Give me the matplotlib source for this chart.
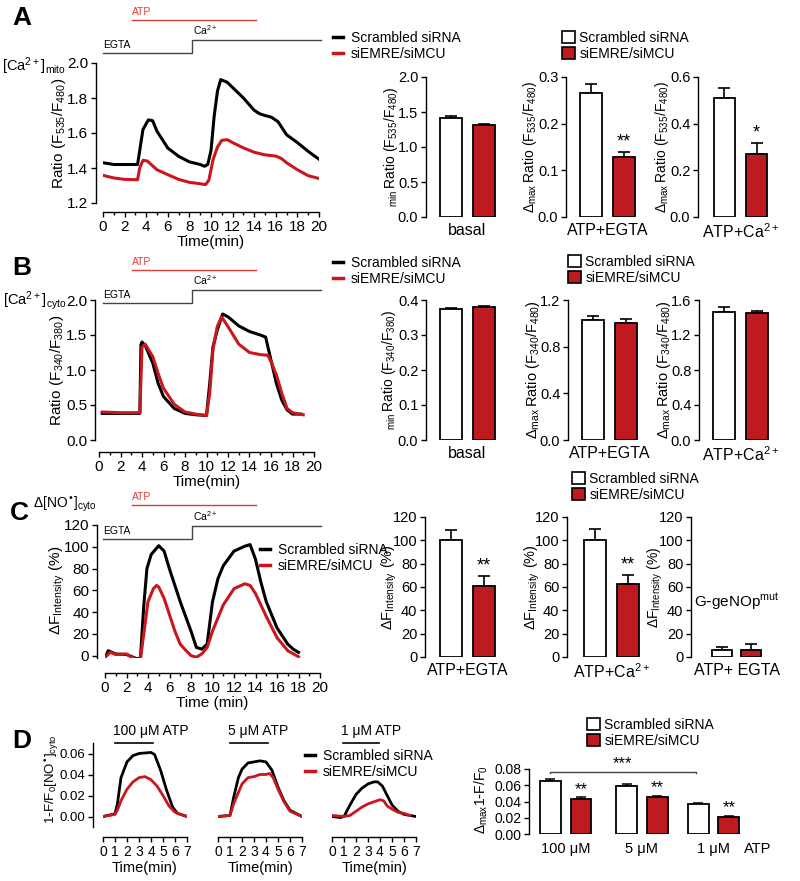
import numpy as np
import matplotlib
matplotlib.use('Agg')
import matplotlib.pyplot as plt
from matplotlib.patches import Patch
from matplotlib.lines import Line2D

plt.rcParams['font.family'] = ['Liberation Sans', 'DejaVu Sans']
plt.rcParams['mathtext.default'] = 'regular'
plt.rcParams['axes.linewidth'] = 1.0

RED = '#bf1a1f'
RED_LINE = '#c8171d'
RED_ATP = '#d9403a'
GREY = '#444444'

# ---------------- data ----------------
# A: mito Ca2+ traces
ta_k = [0, 1, 2, 3, 3.2, 3.4, 3.7, 4.2, 4.6, 5, 5.5, 6, 7, 8, 9, 9.4, 9.7, 10.0, 10.3, 10.6, 10.9,
        11.5, 12, 13, 14, 14.5, 15, 15.6, 16.2, 17, 18, 19, 20]
ya_k = [1.43, 1.42, 1.42, 1.42, 1.42, 1.50, 1.62, 1.675, 1.67, 1.61, 1.562, 1.514, 1.467, 1.435, 1.42,
        1.41, 1.42, 1.50, 1.70, 1.84, 1.905, 1.89, 1.86, 1.80, 1.73, 1.71, 1.70, 1.69, 1.665, 1.59,
        1.545, 1.495, 1.45]
ta_r = [0, 1, 2, 3.2, 3.4, 3.7, 4.1, 5, 6, 7, 8, 9, 9.5, 9.8, 10.2, 10.6, 11, 11.5, 12, 13, 14, 15,
        16, 16.5, 17, 18, 19, 20]
ya_r = [1.358, 1.343, 1.335, 1.333, 1.40, 1.444, 1.44, 1.39, 1.362, 1.335, 1.318, 1.31, 1.305, 1.33,
        1.45, 1.52, 1.558, 1.562, 1.545, 1.515, 1.49, 1.475, 1.468, 1.455, 1.43, 1.39, 1.356, 1.34]

# B: cyto Ca2+ traces
tb_k = [0.3, 2, 3.8, 3.9, 4.0, 4.3, 5, 5.5, 6, 7, 8, 9, 10, 10.3, 10.6, 11, 11.5, 12, 13, 14, 15,
        15.5, 16, 16.5, 17, 17.5, 18, 18.8]
yb_k = [0.38, 0.38, 0.38, 1.36, 1.40, 1.35, 1.10, 0.81, 0.62, 0.45, 0.38, 0.36, 0.35, 0.81, 1.33,
        1.57, 1.80, 1.76, 1.63, 1.55, 1.50, 1.47, 1.14, 0.81, 0.57, 0.43, 0.37, 0.37]
tb_r = [0.3, 2, 3.8, 4.0, 4.3, 5, 5.5, 6, 7, 8, 9, 10, 10.3, 10.6, 11, 11.4, 12, 13, 14, 15, 15.7,
        16, 16.5, 17, 17.5, 18, 19]
yb_r = [0.40, 0.39, 0.39, 1.33, 1.37, 1.19, 0.95, 0.74, 0.51, 0.40, 0.37, 0.35, 0.67, 1.29, 1.62,
        1.76, 1.62, 1.37, 1.25, 1.22, 1.21, 1.12, 0.93, 0.67, 0.45, 0.39, 0.36]

# C: cyto NO traces
tc_k = [0, 0.3, 1, 2, 3, 3.3, 3.6, 3.9, 4.3, 5, 5.5, 6, 7, 8, 8.5, 9, 9.5, 10, 10.5, 11, 12, 13,
        13.5, 14, 14.5, 15, 16, 17, 17.5, 18]
yc_k = [-2, 4.5, 1.5, 1, -3, -2, 45, 80, 93, 101, 96, 79.5, 49.5, 22.5, 7.5, 6, 10.5, 49.5, 70.5,
        82.5, 96, 100.5, 102, 88.5, 67.5, 49.5, 25.5, 10.5, 6, 3]
tc_r = [0, 0.5, 1, 2, 2.5, 3, 3.3, 3.6, 4, 4.5, 4.8, 5, 5.5, 6, 6.5, 7, 7.5, 8, 8.5, 9, 9.5, 10, 11,
        12, 13, 13.5, 14, 15, 16, 17, 18]
yc_r = [-1.5, 3, 1, 1.5, -1.5, -4, -3, 19.5, 49.5, 61.5, 64.5, 63, 52.5, 37.5, 22.5, 10.5, 5, 0,
        -1.5, 1.5, 7.5, 22.5, 46.5, 61.5, 66, 64.5, 57, 36, 16.5, 4.5, -1]

# D: NO traces at three ATP doses
d1_tk = [0, 1, 1.2, 1.5, 2, 2.5, 3, 4, 4.3, 4.8, 5.3, 5.8, 6.2, 7]
d1_yk = [0, 0.0025, 0.012, 0.037, 0.052, 0.058, 0.060, 0.061, 0.059, 0.044, 0.025, 0.009, 0.003, 0.0]
d1_tr = [0, 1, 1.2, 1.5, 2, 2.5, 3, 3.5, 4, 4.5, 5, 5.5, 6, 7]
d1_yr = [0, 0.002, 0.006, 0.015, 0.026, 0.033, 0.037, 0.038, 0.035, 0.029, 0.020, 0.010, 0.004, 0]
d2_tk = [0, 1, 1.3, 1.7, 2, 2.5, 3, 3.5, 4, 4.5, 5, 5.5, 6, 7]
d2_yk = [0, 0.001, 0.018, 0.037, 0.045, 0.051, 0.052, 0.053, 0.052, 0.044, 0.028, 0.015, 0.006, 0]
d2_tr = [0, 1, 1.3, 2, 2.5, 3, 3.5, 4, 4.3, 4.6, 5, 5.5, 6, 7]
d2_yr = [0, 0.001, 0.012, 0.031, 0.037, 0.038, 0.040, 0.040, 0.041, 0.037, 0.026, 0.014, 0.005, 0]
d3_tk = [0, 0.7, 1, 1.5, 2, 2.5, 3, 3.5, 3.8, 4.2, 4.6, 5, 5.5, 6, 6.5, 7]
d3_yk = [0, -0.001, 0, 0.011, 0.021, 0.027, 0.031, 0.033, 0.033, 0.029, 0.020, 0.011, 0.005, 0.002,
         0.001, 0]
d3_tr = [0, 1, 1.5, 2, 2.5, 3, 3.5, 4, 4.3, 4.6, 5, 5.5, 6, 6.5]
d3_yr = [0.001, 0, 0.001, 0.005, 0.009, 0.012, 0.014, 0.016, 0.015, 0.010, 0.007, 0.004, 0.003, 0.001]
d_doses = ['100 μM ATP', '5 μM ATP', '1 μM ATP']

# bar summaries: [scrambled, siEMRE/siMCU]
a_basal, a_basal_err = [1.42, 1.32], [0.03, 0.01]
a_egta, a_egta_err = [0.266, 0.129], [0.018, 0.011]
a_ca, a_ca_err = [0.511, 0.269], [0.040, 0.047]
b_basal, b_basal_err = [0.373, 0.379], [0.003, 0.004]
b_egta, b_egta_err = [1.029, 1.006], [0.037, 0.031]
b_ca, b_ca_err = [1.467, 1.448], [0.049, 0.026]
c_egta, c_egta_err = [100, 60.9], [9.2, 8.8]
c_ca, c_ca_err = [100, 62.3], [9.5, 7.7]
c_mut, c_mut_err = [5.7, 6.3], [2.8, 5.1]
d_white, d_white_err = [0.0656, 0.0591, 0.0369], [0.0021, 0.0024, 0.0013]
d_red, d_red_err = [0.0435, 0.0451, 0.0205], [0.0020, 0.0017, 0.0021]
d_cats = ['100 μM', '5 μM', '1 μM']

labels = ['Scrambled siRNA', 'siEMRE/siMCU']

# axis label strings
CA = '$ATP{+}Ca^{2+}$'
R535 = '$Ratio\\ (F_{535}/F_{480})$'
R340 = '$Ratio\\ (F_{340}/F_{380})$'
MIN535 = '$_{min}\\,Ratio\\ (F_{535}/F_{480})$'
MIN340 = '$_{min}\\,Ratio\\ (F_{340}/F_{380})$'
MAX535 = '$Δ_{max}\\,Ratio\\ (F_{535}/F_{480})$'
MAX340 = '$Δ_{max}\\,Ratio\\ (F_{340}/F_{480})$'
DFI = '$ΔF_{Intensity}\\ (\\%)$'

# ---------------- figure ----------------
W, H = 800, 881
fig = plt.figure(figsize=(W / 100, H / 100), dpi=100)


def pax(l, t, r, b):
    return fig.add_axes([l / W, 1 - b / H, (r - l) / W, (b - t) / H])


def ftext(x, y, s, **kw):
    kw.setdefault('ha', 'left')
    kw.setdefault('va', 'center')
    fig.text(x / W, 1 - y / H, s, **kw)


PT = 0.72  # px -> pt at 100 dpi


def trace_axes(box, xlim, ylim, yticks, yfmt, xoff, yoff, xstep=2, fs=11):
    ax = pax(*box)
    ax.set_xlim(xlim)
    ax.set_ylim(ylim)
    ax.spines['top'].set_visible(False)
    ax.spines['right'].set_visible(False)
    ax.spines['left'].set_position(('outward', yoff * PT))
    ax.spines['bottom'].set_position(('outward', xoff * PT))
    ax.set_xticks(np.arange(xlim[0], xlim[1] + 0.01, xstep))
    if xstep == 2:
        ax.set_xticks(np.arange(xlim[0], xlim[1] + 0.01, 1), minor=True)
    ax.set_yticks(yticks)
    ax.set_yticklabels([yfmt % v for v in yticks])
    ax.tick_params(direction='out', length=3.5, width=1, labelsize=fs, pad=2)
    ax.tick_params(which='minor', direction='out', length=2, width=1)
    ax.patch.set_alpha(0)
    return ax


def bar_axes(box, vals, errs, ymax, yticks, yfmt, xl, cat, stars=None, yoff=5):
    ax = pax(*box)
    ax.bar([0, 1], vals, width=0.67, color=['white', RED], edgecolor='black', linewidth=1.3, zorder=3)
    ax.errorbar([0, 1], vals, yerr=[[0, 0], errs], fmt='none', ecolor='black', elinewidth=1.2,
                capsize=4, capthick=1.2, zorder=2)
    ax.set_ylim(0, ymax)
    ax.set_xlim(xl, 1.45)
    for s in ['top', 'right', 'bottom']:
        ax.spines[s].set_visible(False)
    ax.spines['left'].set_position(('outward', yoff * PT))
    ax.set_yticks(yticks)
    ax.set_yticklabels([yfmt % v for v in yticks])
    ax.set_xticks([0.5])
    ax.set_xticklabels([cat], fontsize=11.5)
    ax.tick_params(axis='x', length=0, pad=4)
    ax.tick_params(axis='y', direction='out', length=3.5, width=1, labelsize=10.5, pad=2)
    if stars:
        ax.text(1, vals[1] + errs[1] + ymax * 0.01, stars, ha='center', va='bottom', fontsize=13)
    ax.patch.set_alpha(0)
    return ax


def annot(ax, atp, egta_end, ca_end, y_atp, y_egta, y_ca, egta_start=0):
    tr = ax.get_xaxis_transform()
    ax.plot(atp, [y_atp, y_atp], color=RED_ATP, lw=1.0, transform=tr, clip_on=False)
    ax.plot([egta_start, egta_end, egta_end, ca_end], [y_egta, y_egta, y_ca, y_ca], color=GREY, lw=1.0,
            transform=tr, clip_on=False)
    ax.text(atp[0], y_atp + 0.02, 'ATP', color=RED_ATP, fontsize=7.5, transform=tr, va='bottom')
    ax.text(egta_start, y_egta + 0.02, 'EGTA', color='black', fontsize=7.5, transform=tr, va='bottom')
    ax.text(egta_end + 0.1, y_ca + 0.02, '$Ca^{2+}$', color='black', fontsize=7.5, transform=tr,
            va='bottom')


line_handles = [Line2D([], [], color='black', lw=2.5), Line2D([], [], color=RED_LINE, lw=2.5)]
box_handles = [Patch(facecolor='white', edgecolor='black', lw=1.2),
               Patch(facecolor=RED, edgecolor='black', lw=1.2)]


def legend(handles, x, y, box=False):
    kw = dict(loc='upper left', bbox_to_anchor=(x / W, 1 - y / H), bbox_transform=fig.transFigure,
              frameon=False, fontsize=10, borderpad=0, borderaxespad=0, labelspacing=0.12)
    if box:
        kw.update(handlelength=0.9, handleheight=0.9, handletextpad=0.35)
    else:
        kw.update(handlelength=0.75, handletextpad=0.55)
    fig.legend(handles, labels, **kw)


# ---------------- panel A ----------------
ax = trace_axes((103, 63, 319, 203), (0, 20), (1.2, 2.0), [1.2, 1.4, 1.6, 1.8, 2.0], '%.1f', 9, 7)
ax.plot(ta_k, ya_k, color='black', lw=2.2)
ax.plot(ta_r, ya_r, color=RED_LINE, lw=2.2)
annot(ax, [2.7, 14.2], 8.2, 20.2, 1.307, 1.071, 1.164)
ax.set_xlabel('Time(min)', fontsize=11, labelpad=1)
ftext(59, 133, R535, rotation=90, ha='center', fontsize=11)
ftext(66, 66, '$[Ca^{2+}]_{mito}$', ha='right', fontsize=10.5)
ftext(12, 18, 'A', fontsize=19, fontweight='bold')
legend(line_handles, 333, 31)
legend(box_handles, 562, 31, box=True)

bar_axes((431, 77, 499, 217), a_basal, a_basal_err, 2.0, [0, 0.5, 1.0, 1.5, 2.0], '%.1f', -0.6, 'basal')
ftext(391, 147, MIN535, rotation=90, ha='center', fontsize=10)
bar_axes((571, 77, 639, 217), a_egta, a_egta_err, 0.3, [0, 0.1, 0.2, 0.3], '%.1f', -0.6, 'ATP+EGTA', '**')
ftext(530, 147, MAX535, rotation=90, ha='center', fontsize=10)
bar_axes((703, 77, 771, 217), a_ca, a_ca_err, 0.6, [0, 0.2, 0.4, 0.6], '%.1f', -0.67, CA, '*')
ftext(662, 147, MAX535, rotation=90, ha='center', fontsize=10)

# ---------------- panel B ----------------
ax = trace_axes((99, 300, 314, 440), (0, 20), (0, 2.0), [0, 0.5, 1.0, 1.5, 2.0], '%.1f', 12, 4)
ax.plot(tb_k, yb_k, color='black', lw=2.2)
ax.plot(tb_r, yb_r, color=RED_LINE, lw=2.2)
annot(ax, [3.07, 14.6], 8.65, 20.65, 1.214, 0.979, 1.071, egta_start=0.37)
ax.set_xlabel('Time(min)', fontsize=11, labelpad=1)
ftext(57, 370, R340, rotation=90, ha='center', fontsize=11)
ftext(66, 301, '$[Ca^{2+}]_{cyto}$', ha='right', fontsize=10.5)
ftext(12, 268, 'B', fontsize=19, fontweight='bold')
legend(line_handles, 333, 256)
legend(box_handles, 568, 255, box=True)

bar_axes((431, 300, 499, 440), b_basal, b_basal_err, 0.4, [0, 0.1, 0.2, 0.3, 0.4], '%.1f', -0.6, 'basal')
ftext(389, 370, MIN340, rotation=90, ha='center', fontsize=10)
bar_axes((573, 300, 641, 440), b_egta, b_egta_err, 1.2, [0, 0.4, 0.8, 1.2], '%.1f', -0.6, 'ATP+EGTA')
ftext(533, 370, MAX340, rotation=90, ha='center', fontsize=10.5)
bar_axes((704, 300, 772, 440), b_ca, b_ca_err, 1.6, [0, 0.4, 0.8, 1.2, 1.6], '%.1f', -0.6, CA)
ftext(664, 370, MAX340, rotation=90, ha='center', fontsize=10.5)

# ---------------- panel C ----------------
ax = trace_axes((105, 525, 320, 658), (0, 20), (-5, 120), [0, 20, 40, 60, 80, 100, 120], '%d', 15, 8)
ax.set_ylim(-2.2, 120)
ax.plot(tc_k, yc_k, color='black', lw=2.2)
ax.plot(tc_r, yc_r, color=RED_LINE, lw=2.2)
annot(ax, [2.5, 14.0], 8.1, 20.1, 1.150, 0.895, 0.992, egta_start=-0.19)
ax.set_xlabel('Time (min)', fontsize=11, labelpad=1)
ftext(57, 590, DFI, rotation=90, ha='center', fontsize=11)
ftext(33, 504, '$Δ[NO^{•}]_{cyto}$', fontsize=10)
ftext(10, 513, 'C', fontsize=19, fontweight='bold')
legend(line_handles, 260, 543)
legend(box_handles, 572, 472, box=True)

c_ticks = [0, 20, 40, 60, 80, 100, 120]
bar_axes((431, 517, 499, 657), c_egta, c_egta_err, 120, c_ticks, '%d', -0.6, 'ATP+EGTA', '**', yoff=6)
ftext(389, 587, DFI, rotation=90, ha='center', fontsize=10.5)
bar_axes((575, 517, 643, 657), c_ca, c_ca_err, 120, c_ticks, '%d', -0.6, CA, '**', yoff=8)
ftext(532, 587, DFI, rotation=90, ha='center', fontsize=10.5)
ax = bar_axes((696, 517, 764, 657), c_mut, c_mut_err, 120, c_ticks, '%d', -0.9, 'ATP+ EGTA', yoff=5)
ax.text(0.5, 47, '$G\\text{-}geNOp^{mut}$', ha='center', va='center', fontsize=11)
ftext(655, 587, DFI, rotation=90, ha='center', fontsize=10)

# ---------------- panel D ----------------
d_traces = [(d1_tk, d1_yk, d1_tr, d1_yr), (d2_tk, d2_yk, d2_tr, d2_yr), (d3_tk, d3_yk, d3_tr, d3_yr)]
d_lefts = [103, 218, 332]
d_atp = [(1.0, 4.2), (1.0, 4.2), (0.9, 3.9)]
for i, (tk, yk, tr_, yr) in enumerate(d_traces):
    l = d_lefts[i]
    ax = trace_axes((l, 743, l + 84, 827), (0, 7), (-0.01, 0.07), [0, 0.02, 0.04, 0.06], '%.2f', 10, 10,
                    xstep=1, fs=9.5)
    ax.tick_params(axis='x', labelsize=10)
    ax.plot(tk, yk, color='black', lw=2.0)
    ax.plot(tr_, yr, color=RED_LINE, lw=2.0)
    if i > 0:
        ax.spines['left'].set_visible(False)
        ax.set_yticks([])
    trf = ax.get_xaxis_transform()
    ax.plot(d_atp[i], [1.0, 1.0], color='black', lw=1.2, transform=trf, clip_on=False)
    ax.text(d_atp[i][0] - 0.15, 1.06, d_doses[i], fontsize=10, transform=trf, va='bottom')
    ax.set_xlabel('Time(min)', fontsize=10.5, labelpad=2)
ftext(52, 779, '$1\\text{-}F/F_0[NO^{•}]_{cyto}$', rotation=90, ha='center', fontsize=9.5)
ftext(12, 741, 'D', fontsize=19, fontweight='bold')
legend(line_handles, 305, 749)

ax = pax(533, 769, 770, 834)
xw = np.array([0, 2.5, 4.85])
ax.bar(xw, d_white, width=0.68, color='white', edgecolor='black', linewidth=1.3, zorder=3)
ax.bar(xw + 1, d_red, width=0.68, color=RED, edgecolor='black', linewidth=1.3, zorder=3)
ax.errorbar(xw, d_white, yerr=[[0] * 3, d_white_err], fmt='none', ecolor='black', elinewidth=1.1,
            capsize=3.5, capthick=1.1, zorder=2)
ax.errorbar(xw + 1, d_red, yerr=[[0] * 3, d_red_err], fmt='none', ecolor='black', elinewidth=1.1,
            capsize=3.5, capthick=1.1, zorder=2)
for x, v, e in zip(xw + 1, d_red, d_red_err):
    ax.text(x, v + e + 0.0005, '**', ha='center', va='bottom', fontsize=12)
ax.set_ylim(0, 0.08)
ax.set_xlim(-0.57, 7.2)
for s in ['top', 'right', 'bottom']:
    ax.spines[s].set_visible(False)
ax.spines['left'].set_position(('outward', 4 * PT))
ax.set_yticks([0, 0.02, 0.04, 0.06, 0.08])
ax.set_yticklabels(['%.2f' % v for v in [0, 0.02, 0.04, 0.06, 0.08]])
ax.tick_params(axis='y', direction='out', length=3.5, width=1, labelsize=10, pad=2)
ax.set_xticks(list(xw + 0.5) + [6.78])
ax.set_xticklabels(d_cats + ['ATP'], fontsize=10.5)
ax.tick_params(axis='x', length=0, pad=6)
ax.plot([0, 0, 4.78, 4.78], [0.0745, 0.0763, 0.0763, 0.0745], color=GREY, lw=1.0, clip_on=False)
ax.text(2.35, 0.0775, '***', ha='center', va='bottom', fontsize=12)
ax.patch.set_alpha(0)
ftext(481, 800, '$Δ_{max}1\\text{-}F/F_0$', rotation=90, ha='center', fontsize=10)
legend(box_handles, 587, 718, box=True)

fig.savefig('out.png', dpi=100)
